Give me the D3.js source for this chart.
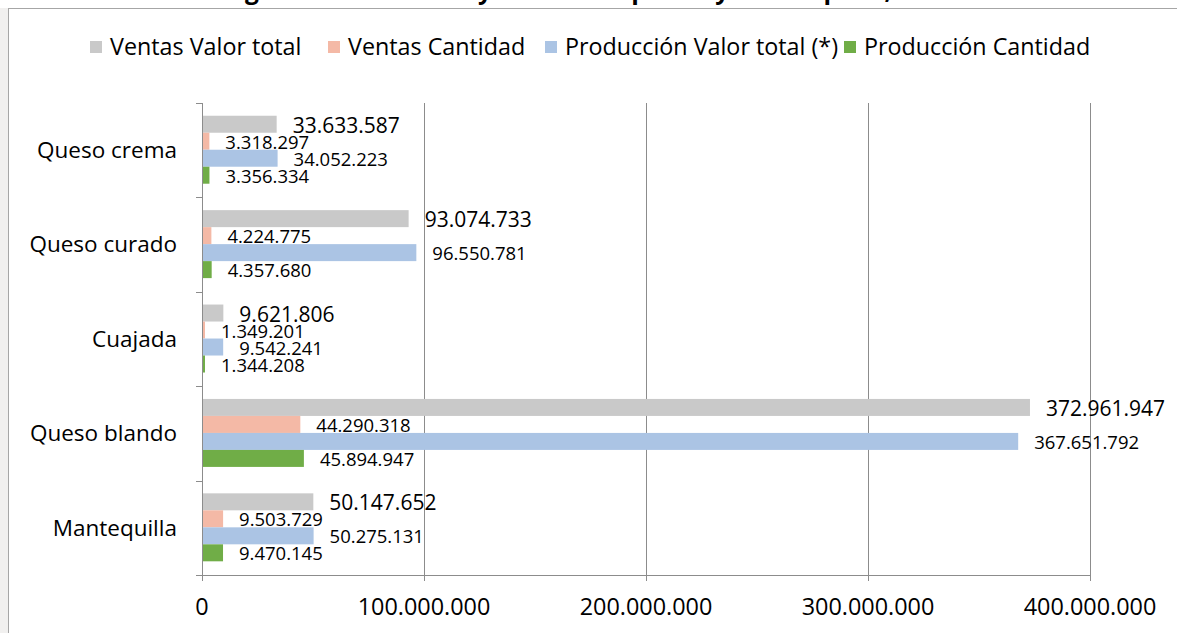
<!DOCTYPE html>
<html>
<head>
<meta charset="utf-8">
<script src="https://cdn.jsdelivr.net/npm/d3@7"></script>
<style>
  body { margin: 0; background: #fff; overflow: hidden; }
  text { font-family: "Open Sans", "Noto Sans", sans-serif; fill: #000; }
</style>
</head>
<body>
<div id="chart"></div>
<script>
// data
var categories = ["Queso crema", "Queso curado", "Cuajada", "Queso blando", "Mantequilla"];
var seriesNames = ["Ventas Valor total", "Ventas Cantidad", "Producción Valor total (*)", "Producción Cantidad"];
var ventasValor = [33633587, 93074733, 9621806, 372961947, 50147652];
var ventasCantidad = [3318297, 4224775, 1349201, 44290318, 9503729];
var produccionValor = [34052223, 96550781, 9542241, 367651792, 50275131];
var produccionCantidad = [3356334, 4357680, 1344208, 45894947, 9470145];
var xTicks = [0, 100000000, 200000000, 300000000, 400000000];
var colors = ["#c9c9c9", "#f4b9a6", "#abc4e4", "#70ad47"];

var series = [ventasValor, ventasCantidad, produccionValor, produccionCantidad];

var W = 1177, H = 633;
var svg = d3.select('#chart').append('svg').attr('width', W).attr('height', H);

// left strip + outer chart border
svg.append('rect').attr('x', 0).attr('y', 8).attr('width', 9).attr('height', H).attr('fill', '#f1f0ef');
svg.append('rect')
  .attr('x', 8.5).attr('y', 8.5).attr('width', W + 20).attr('height', H + 20)
  .attr('fill', '#fff').attr('stroke', '#a6a6a6').attr('stroke-width', 1);

// title, cut off by the top of the picture
svg.append('text')
  .attr('x', 224).attr('y', -1)
  .attr('font-size', 24.5).attr('font-weight', 'bold')
  .text('Figura 4. Producción y ventas de quesos y mantequilla, 2013');

var x = d3.scaleLinear().domain([0, 400000000]).range([202, 1090]);
var y = d3.scaleBand().domain(categories).range([103, 575]).padding(0);
var bw = y.bandwidth();
var yIn = d3.scaleBand().domain(d3.range(series.length)).range([bw * 0.135, bw * 0.855]).padding(0);

var fmt = function(v) { return d3.format(',')(v).replace(/,/g, '.'); };

// gridlines + x ticks
svg.selectAll('.grid').data(xTicks.slice(1)).enter().append('line')
  .attr('x1', function(d) { return Math.round(x(d)) + 0.5; })
  .attr('x2', function(d) { return Math.round(x(d)) + 0.5; })
  .attr('y1', 103).attr('y2', 581)
  .attr('stroke', '#8c8c8c').attr('stroke-width', 1);

svg.selectAll('.xlab').data(xTicks).enter().append('text')
  .attr('x', function(d) { return x(d); })
  .attr('y', 615)
  .attr('text-anchor', 'middle')
  .attr('font-size', 23.4)
  .text(function(d) { return fmt(d); });

// bars
var groups = svg.selectAll('.cat').data(categories).enter().append('g')
  .attr('transform', function(d) { return 'translate(0,' + y(d) + ')'; });

groups.each(function(c, ci) {
  var g = d3.select(this);
  series.forEach(function(s, si) {
    var v = s[ci];
    g.append('rect')
      .attr('x', x(0)).attr('y', yIn(si))
      .attr('width', x(v) - x(0)).attr('height', yIn.bandwidth())
      .attr('fill', colors[si]);
    g.append('text')
      .attr('x', x(v) + 16)
      .attr('y', yIn(si) + yIn.bandwidth() / 2 + 1)
      .attr('dy', '0.36em')
      .attr('font-size', si === 0 ? 21 : 18.5)
      .text(fmt(v));
  });
});

// axes lines
svg.append('line').attr('x1', 202.5).attr('x2', 202.5).attr('y1', 103).attr('y2', 575)
  .attr('stroke', '#8c8c8c');
svg.append('line').attr('x1', 196).attr('x2', 1090).attr('y1', 575.5).attr('y2', 575.5)
  .attr('stroke', '#8c8c8c');
svg.append('line').attr('x1', 202.5).attr('x2', 202.5).attr('y1', 575).attr('y2', 581)
  .attr('stroke', '#8c8c8c');
var bounds = categories.map(function(c) { return y(c); }).concat([575]);
svg.selectAll('.ytick').data(bounds).enter().append('line')
  .attr('x1', 196).attr('x2', 202)
  .attr('y1', function(d) { return Math.round(d) + 0.5; })
  .attr('y2', function(d) { return Math.round(d) + 0.5; })
  .attr('stroke', '#8c8c8c');

// category labels
svg.selectAll('.ylab').data(categories).enter().append('text')
  .attr('x', 177)
  .attr('y', function(d) { return y(d) + bw / 2; })
  .attr('dy', '0.35em')
  .attr('text-anchor', 'end')
  .attr('font-size', 22.5)
  .text(function(d) { return d; });

// legend
var legX = [90, 328, 545, 844];
var leg = svg.selectAll('.leg').data(seriesNames).enter().append('g')
  .attr('transform', function(d, i) { return 'translate(' + legX[i] + ',47)'; });
leg.append('rect').attr('x', 0).attr('y', -6).attr('width', 12).attr('height', 12)
  .attr('fill', function(d, i) { return colors[i]; });
leg.append('text').attr('x', 20).attr('dy', '0.35em').attr('font-size', 23.3)
  .text(function(d) { return d; });
</script>
</body>
</html>
